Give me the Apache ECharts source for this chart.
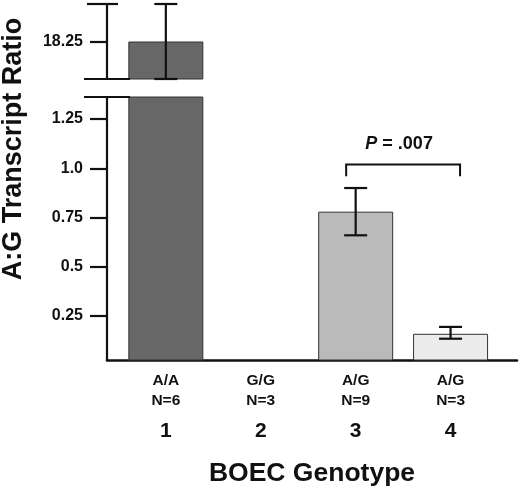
<!DOCTYPE html>
<html>
<head>
<meta charset="utf-8">
<script src="https://cdn.jsdelivr.net/npm/echarts@6/dist/echarts.min.js"></script>
<style>
  html, body { margin: 0; padding: 0; background: #fff; }
  #chart { width: 520px; height: 490px; }
</style>
</head>
<body>
<div id="chart"></div>
<script>
// genotype groups
var catPos = [1, 2, 3, 4];
var genotypes = ["A/A", "G/G", "A/G", "A/G"];
var counts = ["N=6", "N=3", "N=9", "N=3"];
// A:G transcript ratio, mean and error range
var ratios = [18.25, 0, 0.78, 0.16];
var errLow = [17.55, null, 0.66, 0.135];
var errHigh = [18.95, null, 0.9, 0.195];
var barColors = ["#676767", "#ffffff", "#bababa", "#ececec"];
// tick labels on the two halves of the broken axis
var upperTicks = [18.25];
var upperTickLabels = ["18.25"];
var lowerTicks = [0.25, 0.5, 0.75, 1.0, 1.25];
var lowerTickLabels = ["0.25", "0.5", "0.75", "1.0", "1.25"];
// significance bracket
var pPair = [3, 4];
var pLevel = [0.96, 1.02];
var pText = "P = .007";

var FONT = "Liberation Sans, Arial, sans-serif";
var UPPER = { min: 17.55, max: 18.95 };
var LOWER = { min: 0.027, max: 1.362 };

var chart = echarts.init(document.getElementById("chart"), null, { renderer: "canvas" });

function barData() {
	return ratios.map(function (v, i) {
		return {
			value: [catPos[i], v],
			itemStyle: { color: barColors[i] }
		};
	});
}

function errData(range) {
	var out = [];
	ratios.forEach(function (v, i) {
		if (errLow[i] == null) return;
		if (errLow[i] >= range.min && errHigh[i] <= range.max) {
			out.push([catPos[i], errLow[i], errHigh[i]]);
		}
	});
	return out;
}

function renderErr(params, api) {
	var x = api.value(0);
	var lo = api.coord([x, api.value(1)]);
	var hi = api.coord([x, api.value(2)]);
	var half = 11.5;
	var st = { stroke: "#111", lineWidth: 2.2 };
	return {
		type: "group",
		children: [
			{ type: "line", shape: { x1: hi[0], y1: hi[1], x2: lo[0], y2: lo[1] }, style: st },
			{ type: "line", shape: { x1: hi[0] - half, y1: hi[1], x2: hi[0] + half, y2: hi[1] }, style: st },
			{ type: "line", shape: { x1: lo[0] - half, y1: lo[1], x2: lo[0] + half, y2: lo[1] }, style: st }
		]
	};
}

// break caps on the y axis, drawn from the grid's own rect
function renderCaps(which) {
	return function (params, api) {
		var cs = params.coordSys;
		var st = { stroke: "#111", lineWidth: 2.2 };
		var kids = [];
		if (which === "upper") {
			kids.push({ type: "line", shape: { x1: cs.x - 20, y1: cs.y, x2: cs.x + 11, y2: cs.y }, style: st });
			kids.push({ type: "line", shape: { x1: cs.x - 23, y1: cs.y + cs.height, x2: cs.x + 23, y2: cs.y + cs.height }, style: st });
		} else {
			kids.push({ type: "line", shape: { x1: cs.x - 23, y1: cs.y, x2: cs.x + 23, y2: cs.y }, style: st });
		}
		return { type: "group", children: kids };
	};
}

function renderBracket(params, api) {
	var pad = 0.1;
	var a = api.coord([api.value(0) - pad, api.value(2)]);
	var b = api.coord([api.value(1) + pad, api.value(2)]);
	var aDown = api.coord([api.value(0) - pad, api.value(3)]);
	return {
		type: "group",
		children: [
			{
				type: "polyline",
				shape: { points: [[a[0], aDown[1]], a, b, [b[0], aDown[1]]] },
				style: { stroke: "#111", lineWidth: 2, fill: null }
			},
			{
				type: "text",
				x: (a[0] + b[0]) / 2 - 4,
				y: a[1] - 20,
				style: {
					text: "{p|P}{r|" + pText.slice(1) + "}",
					align: "center",
					verticalAlign: "middle",
					rich: {
						p: { font: "italic bold 18px " + FONT, fill: "#111" },
						r: { font: "bold 18px " + FONT, fill: "#111" }
					}
				}
			}
		]
	};
}

var tickLabelStyle = {
	fontFamily: FONT,
	fontWeight: "bold",
	fontSize: 16,
	color: "#111",
	margin: 24
};

var option = {
	animation: false,
	backgroundColor: "#fff",
	grid: [
		{ left: 107, right: 3, top: 4, height: 75, outerBoundsMode: "none" },
		{ left: 107, right: 3, top: 97, bottom: 130, outerBoundsMode: "none" }
	],
	xAxis: [
		{ type: "value", gridIndex: 0, min: 0.38, max: 4.7, show: false },
		{
			type: "value",
			gridIndex: 1,
			min: 0.38,
			max: 4.7,
			splitLine: { show: false },
			axisLine: { show: true, onZero: false, lineStyle: { color: "#111", width: 2.6 } },
			axisTick: { show: false },
			axisLabel: {
				customValues: catPos,
				margin: 11,
				formatter: function (val) {
					var i = catPos.indexOf(val);
					return "{g|" + genotypes[i] + "}\n{g|" + counts[i] + "}\n{n|" + val + "}";
				},
				rich: {
					g: { fontFamily: FONT, fontWeight: "bold", fontSize: 15.5, lineHeight: 20, color: "#111" },
					n: { fontFamily: FONT, fontWeight: "bold", fontSize: 21, lineHeight: 40, color: "#111" }
				}
			},
			name: "BOEC Genotype",
			nameLocation: "middle",
			nameGap: 100,
			nameTextStyle: { fontFamily: FONT, fontWeight: "bold", fontSize: 26.5, color: "#111" }
		}
	],
	yAxis: [
		{
			type: "value",
			gridIndex: 0,
			min: UPPER.min,
			max: UPPER.max,
			splitLine: { show: false },
			axisLine: { show: true, onZero: false, lineStyle: { color: "#111", width: 2.2 } },
			axisTick: { show: true, customValues: upperTicks, length: 17, lineStyle: { color: "#111", width: 2.2 } },
			axisLabel: Object.assign({}, tickLabelStyle, {
				customValues: upperTicks,
				formatter: function (val) {
					return upperTickLabels[upperTicks.indexOf(val)];
				}
			})
		},
		{
			type: "value",
			gridIndex: 1,
			min: LOWER.min,
			max: LOWER.max,
			splitLine: { show: false },
			axisLine: { show: true, onZero: false, lineStyle: { color: "#111", width: 2.2 } },
			axisTick: { show: true, customValues: lowerTicks, length: 17, lineStyle: { color: "#111", width: 2.2 } },
			axisLabel: Object.assign({}, tickLabelStyle, {
				customValues: lowerTicks,
				formatter: function (val) {
					return lowerTickLabels[lowerTicks.indexOf(val)];
				}
			})
		}
	],
	graphic: [
		{
			type: "text",
			x: 14,
			y: 149,
			rotation: Math.PI / 2,
			style: {
				text: "A:G Transcript Ratio",
				font: "bold 27px " + FONT,
				fill: "#111",
				align: "center",
				verticalAlign: "middle"
			}
		}
	],
	series: [
		{
			type: "bar",
			xAxisIndex: 0,
			yAxisIndex: 0,
			barWidth: 75,
			clip: true,
			itemStyle: { borderColor: "#333", borderWidth: 1 },
			data: barData()
		},
		{
			type: "bar",
			xAxisIndex: 1,
			yAxisIndex: 1,
			barWidth: 75,
			clip: true,
			itemStyle: { borderColor: "#333", borderWidth: 1 },
			data: barData()
		},
		{
			type: "custom",
			xAxisIndex: 0,
			yAxisIndex: 0,
			renderItem: renderErr,
			data: errData(UPPER),
			z: 5
		},
		{
			type: "custom",
			xAxisIndex: 1,
			yAxisIndex: 1,
			renderItem: renderErr,
			data: errData(LOWER),
			z: 5
		},
		{
			type: "custom",
			xAxisIndex: 0,
			yAxisIndex: 0,
			renderItem: renderCaps("upper"),
			data: [[1, UPPER.min]],
			z: 6
		},
		{
			type: "custom",
			xAxisIndex: 1,
			yAxisIndex: 1,
			renderItem: renderCaps("lower"),
			data: [[1, LOWER.min]],
			z: 6
		},
		{
			type: "custom",
			xAxisIndex: 1,
			yAxisIndex: 1,
			renderItem: renderBracket,
			data: [[pPair[0], pPair[1], pLevel[1], pLevel[0]]],
			z: 5
		}
	]
};

chart.setOption(option);
</script>
</body>
</html>
